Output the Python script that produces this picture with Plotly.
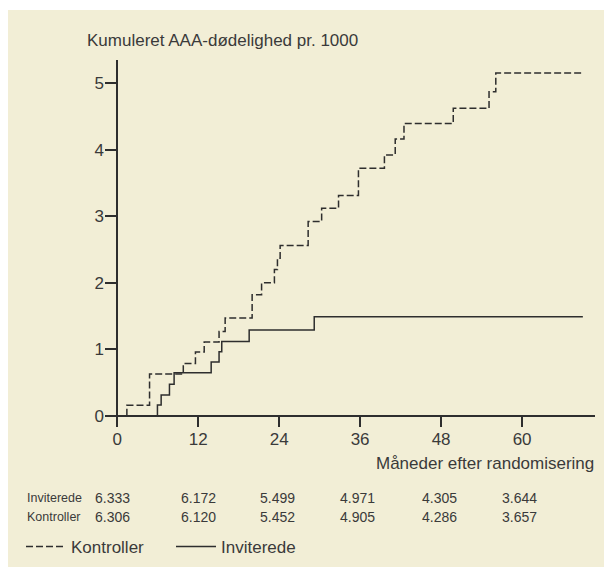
import plotly.graph_objects as go

# ---- data ----
kontroller_months = [0, 1.44, 4.8, 9.8, 11.6, 12.9, 15.1, 16.0, 20.0, 21.4, 23.3, 23.75, 24.15,
                     28.3, 30.3, 32.8, 35.75, 39.6, 41.2, 42.5, 49.8, 55.1, 56.1, 69.0]
kontroller_values = [0, 0.16, 0.63, 0.79, 0.96, 1.11, 1.27, 1.47, 1.82, 2.0, 2.2, 2.37, 2.56,
                     2.92, 3.12, 3.31, 3.72, 3.92, 4.16, 4.39, 4.62, 4.87, 5.15, 5.15]
inviterede_months = [0, 5.97, 6.52, 7.75, 8.44, 13.93, 15.1, 15.5, 19.56, 29.2, 69.0]
inviterede_values = [0, 0.165, 0.315, 0.475, 0.65, 0.81, 0.965, 1.12, 1.29, 1.49, 1.49]

x_ticks = [0, 12, 24, 36, 48, 60]
y_ticks = [0, 1, 2, 3, 4, 5]
risk_inviterede = ["6.333", "6.172", "5.499", "4.971", "4.305", "3.644"]
risk_kontroller = ["6.306", "6.120", "5.452", "4.905", "4.286", "3.657"]
risk_x_px = [112, 198, 277, 357, 439, 519]

BG = "#F2EED6"
INK = "#2e2e2e"
TXT = "#3a3a3a"
FONT = "Liberation Sans"

OFF = 8  # page body margin
W_PX, H_PX = 612, 567
# plot area in page pixels: x 105..595, y 60..427
PL, PR, PT, PB = 105, 595, 60, 427
L, R, T, B = PL - OFF, W_PX - (PR - OFF), PT - OFF, H_PX - (PB - OFF)
PW, PH = PR - PL, PB - PT


def px(x):
    return (x - PL) / PW


def py(y):
    return (PB - y) / PH


fig = go.Figure()
fig.add_trace(go.Scatter(x=kontroller_months, y=kontroller_values, mode="lines",
                         line=dict(shape="hv", color=INK, width=1.5, dash="7px,3px"),
                         name="Kontroller"))
fig.add_trace(go.Scatter(x=inviterede_months, y=inviterede_values, mode="lines",
                         line=dict(shape="hv", color=INK, width=1.5),
                         name="Inviterede"))

annotations = [
    dict(text="Kumuleret AAA-dødelighed pr. 1000", x=px(85), y=py(40), xref="paper", yref="paper",
         xanchor="left", yanchor="middle", showarrow=False, font=dict(size=17, color=TXT, family=FONT)),
    dict(text="Måneder efter randomisering", x=px(596), y=py(463), xref="paper", yref="paper",
         xanchor="right", yanchor="middle", showarrow=False, font=dict(size=17, color=TXT, family=FONT)),
    dict(text="Inviterede", x=px(25), y=py(498), xref="paper", yref="paper",
         xanchor="left", yanchor="middle", showarrow=False, font=dict(size=12.5, color=TXT, family=FONT)),
    dict(text="Kontroller", x=px(25), y=py(517), xref="paper", yref="paper",
         xanchor="left", yanchor="middle", showarrow=False, font=dict(size=12.5, color=TXT, family=FONT)),
]
for xv, a, b in zip(risk_x_px, risk_inviterede, risk_kontroller):
    annotations.append(dict(text=a, x=px(xv), y=py(498), xref="paper", yref="paper",
                            xanchor="center", yanchor="middle", showarrow=False,
                            font=dict(size=14, color=TXT, family=FONT)))
    annotations.append(dict(text=b, x=px(xv), y=py(517), xref="paper", yref="paper",
                            xanchor="center", yanchor="middle", showarrow=False,
                            font=dict(size=14, color=TXT, family=FONT)))

shapes = [
    dict(type="rect", xref="paper", yref="paper", x0=px(0), x1=px(W_PX + 20), y0=py(10), y1=py(0),
         fillcolor="white", line_width=0, layer="above"),
]

fig.update_layout(
    width=W_PX, height=H_PX,
    margin=dict(l=L, r=R, t=T, b=B, pad=0, autoexpand=False),
    paper_bgcolor=BG, plot_bgcolor=BG,
    font=dict(family=FONT, color=TXT, size=17),
    showlegend=True,
    legend=dict(orientation="h", x=px(21), y=py(547), xanchor="left", yanchor="middle",
                bgcolor="rgba(0,0,0,0)", font=dict(size=17, color=TXT, family=FONT),
                itemwidth=40, entrywidth=95, tracegroupgap=0),
    annotations=annotations,
    shapes=shapes,
    xaxis=dict(range=[-1.8, 70.8], tickvals=x_ticks, ticks="inside", ticklen=11, tickwidth=1.5,
               tickcolor=INK, showgrid=False, zeroline=True, zerolinecolor=INK, zerolinewidth=1.5,
               showline=False, tickfont=dict(size=17, color=TXT), fixedrange=True),
    yaxis=dict(range=[-0.165, 5.345], tickvals=y_ticks, ticks="inside", ticklen=12, tickwidth=1.5,
               tickcolor=INK, showgrid=False, zeroline=True, zerolinecolor=INK, zerolinewidth=1.5,
               showline=False, tickfont=dict(size=17, color=TXT), fixedrange=True),
)

fig.write_html("out.html")
